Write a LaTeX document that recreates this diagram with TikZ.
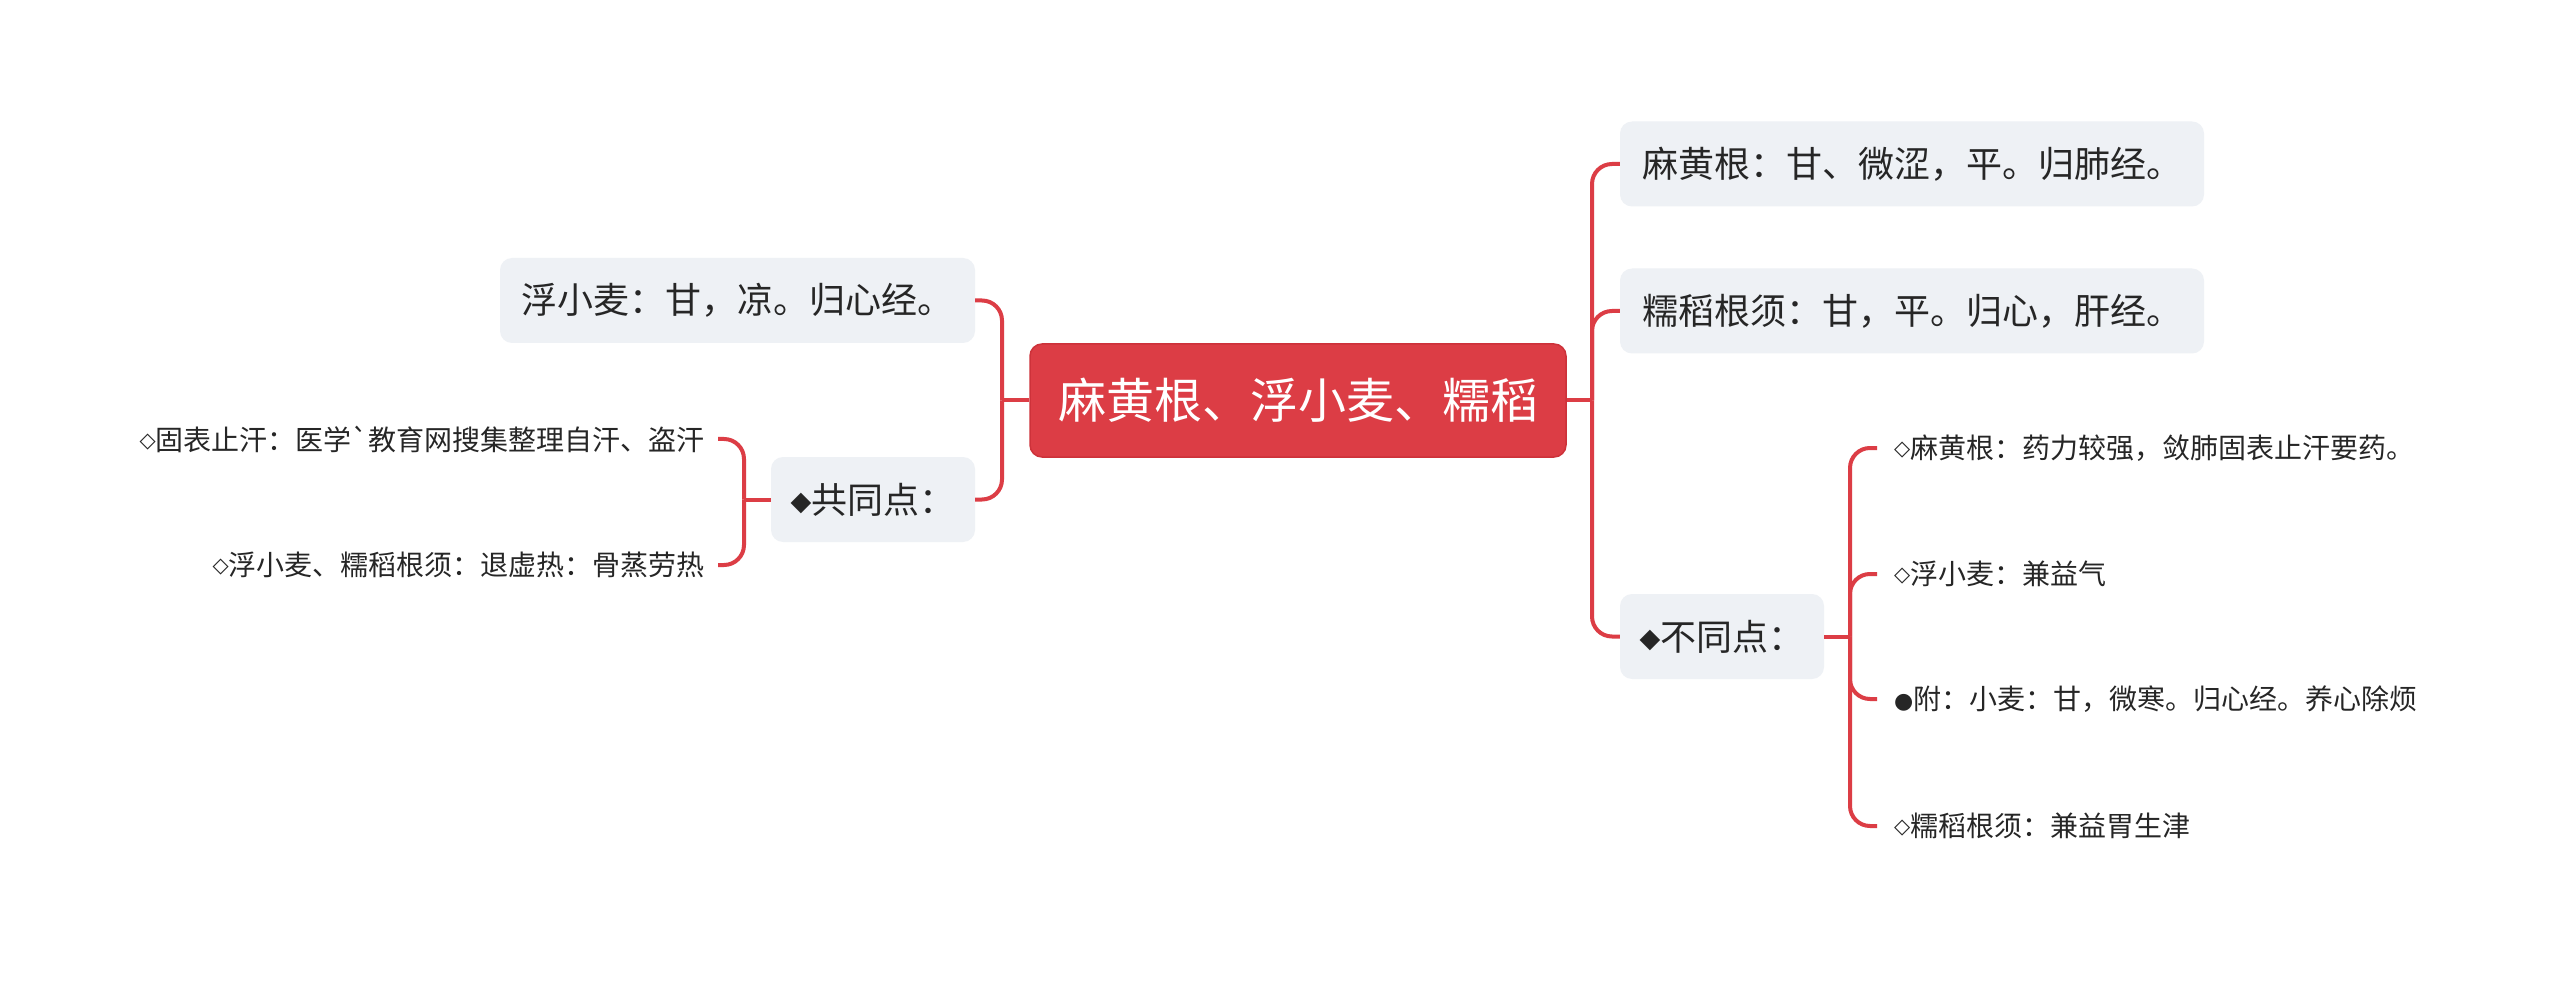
\documentclass[tikz,border=0pt]{standalone}
\usepackage{fontspec}
\setmainfont{Noto Sans CJK SC}[Ligatures=TeXOff]
\newfontfamily\symf{DejaVu Sans}
\definecolor{mred}{RGB}{220,61,69}
\definecolor{mredd}{RGB}{205,50,58}
\definecolor{mbox}{RGB}{238,241,245}
\definecolor{mtext}{RGB}{38,38,38}
\newcommand\sdia{\raisebox{3pt}{\symf\fontsize{21pt}{21pt}\selectfont ◇}}
\newcommand\sbdia{\raisebox{3pt}{\symf\fontsize{27pt}{27pt}\selectfont ◆}}
\newcommand\sdot{\raisebox{1pt}{\symf\fontsize{22pt}{22pt}\selectfont ●}}
\begin{document}
\begin{tikzpicture}[x=1pt,y=-1pt,
  conn/.style={draw=mred,line width=4pt,rounded corners=20pt},
  topic/.style={fill=mbox,rounded corners=12pt,text=mtext,font=\fontsize{36pt}{40pt}\selectfont,inner sep=0pt,minimum height=85pt},
  root/.style={fill=mred,draw=mredd,line width=1.5pt,rounded corners=12pt,text=white,font=\fontsize{48pt}{56pt}\selectfont,inner sep=0pt,minimum width=536pt,minimum height=113pt},
  leaf/.style={text=mtext,font=\fontsize{28pt}{32pt}\selectfont,inner ysep=0pt}]
\fill[white] (0,0) rectangle (2560,981);
\useasboundingbox (0,0) rectangle (2560,981);

% nodes
\node[root] (c) at (1298,400.5) {麻黄根、浮小麦、糯稻};
\node[topic,minimum width=475pt] (fxm) at (737.5,300.5) {浮小麦：甘，凉。归心经。};
\node[topic,minimum width=204pt] (gtd) at (873,499.5) {\sbdia 共同点：};
\node[topic,minimum width=584pt] (mhg) at (1912,164) {麻黄根：甘、微涩，平。归肺经。};
\node[topic,minimum width=584pt] (ndg) at (1912,311) {糯稻根须：甘，平。归心，肝经。};
\node[topic,minimum width=204pt] (btd) at (1722,636.5) {\sbdia 不同点：};

\node[leaf,anchor=east,inner xsep=13pt] (l1) at (718,439) {\sdia 固表止汗：医学`教育网搜集整理自汗、盗汗};
\node[leaf,anchor=east,inner xsep=13pt] (l2) at (718,565) {\sdia 浮小麦、糯稻根须：退虚热：骨蒸劳热};

\node[leaf,anchor=west,inner xsep=17pt] (r1) at (1877,448) {\sdia 麻黄根：药力较强，敛肺固表止汗要药。};
\node[leaf,anchor=west,inner xsep=17pt] (r2) at (1877,574) {\sdia 浮小麦：兼益气};
\node[leaf,anchor=west,inner xsep=17pt] (r3) at (1877,699) {\sdot 附：小麦：甘，微寒。归心经。养心除烦};
\node[leaf,anchor=west,inner xsep=17pt] (r4) at (1877,826) {\sdia 糯稻根须：兼益胃生津};

% junctions
\coordinate (lj) at (1002,400.5);
\coordinate (cj) at (744,499.5);
\coordinate (rj) at (1592,400.5);
\coordinate (dj) at (1850,636.5);

% connectors
\draw[conn] (c.west) -- (lj);
\draw[conn] (lj) |- (fxm.east);
\draw[conn] (lj) |- (gtd.east);
\draw[conn] (gtd.west) -- (cj);
\draw[conn] (cj) |- (l1.east);
\draw[conn] (cj) |- (l2.east);

\draw[conn] (c.east) -- (rj);
\draw[conn] (rj) |- (mhg.west);
\draw[conn] (rj) |- (ndg.west);
\draw[conn] (rj) |- (btd.west);
\draw[conn] (btd.east) -- (dj);
\draw[conn] (dj) |- (r1.west);
\draw[conn] (dj) |- (r2.west);
\draw[conn] (dj) |- (r3.west);
\draw[conn] (dj) |- (r4.west);
\end{tikzpicture}
\end{document}
